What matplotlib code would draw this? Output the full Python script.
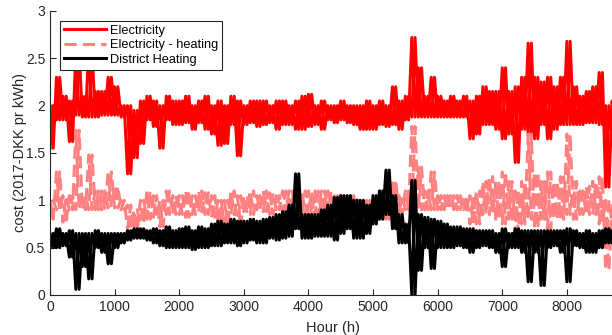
import numpy as np
import matplotlib
matplotlib.use("Agg")
import matplotlib.pyplot as plt

plt.rcParams['font.family'] = ['Liberation Sans', 'DejaVu Sans']

hours = list(range(0, 8800, 100))

el_hi = [2.0, 2.3, 2.1, 2.05, 2.6, 2.1, 2.6, 2.15, 2.15, 2.3,
         2.2, 2.0, 2.0, 1.95, 2.05, 2.1, 2.05, 2.0, 2.1, 2.05,
         2.05, 2.1, 2.0, 2.05, 2.1, 2.0, 2.05, 2.0, 2.1, 2.05,
         2.0, 2.05, 2.05, 2.05, 2.0, 2.05, 2.05, 2.0, 2.05, 2.1,
         2.12, 2.0, 2.05, 2.0, 2.0, 2.05, 2.0, 2.0, 2.0, 2.05,
         2.0, 2.05, 2.0, 2.2, 2.05, 2.1, 2.72, 2.4, 2.1, 2.3,
         2.1, 2.05, 2.1, 2.05, 2.1, 2.05, 2.1, 2.2, 2.15, 2.15,
         2.4, 2.15, 2.2, 2.3, 2.66, 2.3, 2.25, 2.3, 2.2, 2.3,
         2.68, 2.2, 2.1, 2.15, 2.2, 2.35, 2.0, 2.05]
el_lo = [1.55, 1.85, 1.85, 1.62, 1.9, 1.88, 1.88, 1.88, 1.9, 1.9,
         1.9, 1.88, 1.28, 1.45, 1.6, 1.85, 1.78, 1.55, 1.85, 1.8,
         1.8, 1.82, 1.75, 1.82, 1.75, 1.7, 1.58, 1.6, 1.8, 1.47,
         1.8, 1.82, 1.78, 1.8, 1.82, 1.75, 1.8, 1.8, 1.75, 1.75,
         1.78, 1.8, 1.75, 1.85, 1.82, 1.85, 1.82, 1.8, 1.75, 1.75,
         1.75, 1.8, 1.78, 1.8, 1.75, 1.85, 1.88, 1.88, 1.88, 1.88,
         1.88, 1.88, 1.88, 1.88, 1.88, 1.65, 1.7, 1.8, 1.8, 1.75,
         1.65, 1.7, 1.4, 1.75, 1.7, 1.65, 1.8, 1.65, 1.75, 1.8,
         1.8, 1.8, 1.8, 1.82, 1.82, 1.8, 1.14, 1.65]

eh_hi = [1.0, 1.3, 1.05, 1.05, 1.74, 1.05, 1.48, 1.1, 1.1, 1.3,
         1.15, 1.0, 0.95, 0.9, 1.0, 1.1, 1.05, 1.0, 1.1, 1.05,
         1.05, 1.1, 1.05, 1.1, 1.08, 1.05, 1.0, 1.0, 1.1, 1.05,
         1.05, 1.1, 1.05, 1.1, 1.08, 1.05, 1.1, 1.1, 1.1, 1.1,
         1.1, 1.1, 1.1, 1.1, 1.05, 1.05, 1.05, 1.05, 1.0, 1.0,
         1.0, 1.05, 1.0, 1.22, 1.05, 1.1, 1.78, 1.35, 1.1, 1.3,
         1.05, 1.05, 1.05, 1.05, 1.05, 1.05, 1.1, 1.2, 1.25, 1.2,
         1.3, 1.2, 1.1, 1.2, 1.7, 1.3, 1.2, 1.3, 1.2, 1.25,
         1.7, 1.2, 1.1, 1.15, 1.2, 1.25, 1.0, 0.95]
eh_lo = [0.8, 0.9, 0.77, 0.9, 0.9, 0.9, 0.9, 0.9, 0.9, 0.92,
         0.92, 0.9, 0.7, 0.68, 0.75, 0.8, 0.82, 0.72, 0.85, 0.85,
         0.85, 0.82, 0.85, 0.88, 0.85, 0.82, 0.75, 0.7, 0.85, 0.7,
         0.88, 0.85, 0.9, 0.88, 0.85, 0.9, 0.88, 0.85, 0.85, 0.85,
         0.85, 0.85, 0.85, 0.85, 0.9, 0.9, 0.9, 0.85, 0.82, 0.8,
         0.78, 0.85, 0.8, 0.8, 0.85, 0.9, 0.9, 0.9, 0.9, 0.9,
         0.9, 0.9, 0.9, 0.9, 0.9, 0.75, 0.75, 0.85, 0.85, 0.8,
         0.75, 0.8, 0.65, 0.75, 0.8, 0.7, 0.8, 0.7, 0.8, 0.8,
         0.85, 0.8, 0.85, 0.85, 0.85, 0.75, 0.26, 0.75]

dh_hi = [0.65, 0.7, 0.65, 0.68, 0.65, 0.65, 0.65, 0.68, 0.65, 0.65,
         0.65, 0.65, 0.68, 0.7, 0.7, 0.68, 0.7, 0.68, 0.72, 0.68,
         0.7, 0.72, 0.68, 0.72, 0.7, 0.75, 0.78, 0.75, 0.8, 0.78,
         0.78, 0.8, 0.78, 0.8, 0.82, 0.85, 0.88, 0.95, 1.28, 0.85,
         0.85, 0.85, 0.9, 0.95, 1.03, 1.05, 1.05, 1.0, 1.0, 0.95,
         1.05, 1.1, 1.32, 1.05, 0.85, 0.75, 1.21, 0.85, 0.82, 0.8,
         0.78, 0.75, 0.72, 0.72, 0.7, 0.7, 0.68, 0.68, 0.68, 0.65,
         0.7, 0.65, 0.7, 0.68, 0.68, 0.68, 0.68, 0.68, 0.68, 0.68,
         0.7, 0.68, 0.65, 0.68, 0.65, 0.68, 0.7, 0.68]
dh_lo = [0.5, 0.5, 0.52, 0.4, 0.06, 0.3, 0.17, 0.5, 0.45, 0.33,
         0.5, 0.55, 0.58, 0.6, 0.6, 0.58, 0.55, 0.52, 0.5, 0.5,
         0.5, 0.5, 0.48, 0.5, 0.5, 0.52, 0.52, 0.55, 0.55, 0.52,
         0.55, 0.58, 0.55, 0.55, 0.6, 0.58, 0.6, 0.62, 0.7, 0.6,
         0.6, 0.62, 0.62, 0.62, 0.58, 0.65, 0.7, 0.6, 0.6, 0.65,
         0.75, 0.8, 0.85, 0.7, 0.55, 0.55, 0.0, 0.26, 0.5, 0.28,
         0.5, 0.5, 0.5, 0.52, 0.5, 0.45, 0.5, 0.52, 0.5, 0.45,
         0.3, 0.5, 0.5, 0.45, 0.14, 0.45, 0.1, 0.5, 0.52, 0.45,
         0.14, 0.52, 0.5, 0.45, 0.45, 0.5, 0.55, 0.55]


def zigzag(first, second):
    # alternate two envelope reads: first at h, second half a step later
    x, y = [], []
    for h, a, b in zip(hours, first, second):
        x += [h, h + 50]
        y += [a, b]
    return x, y


def draw(hi, lo, label, **kw):
    # hi->lo and lo->hi crossing traces give the dense hourly band look
    x, y = zigzag(hi, lo)
    ax.plot(x, y, label=label, **kw)
    x, y = zigzag(lo, hi)
    ax.plot(x, y, **kw)


fig = plt.figure(figsize=(6.12, 3.35), dpi=100)
ax = fig.add_axes([50 / 612, 40 / 335, 566 / 612, 284 / 335])

draw(el_hi, el_lo, 'Electricity', color=(1, 0, 0), lw=2.2)
draw(eh_hi, eh_lo, 'Electricity - heating', color=(1, 0.5, 0.5), lw=2.2, ls=(0, (4, 2)))
draw(dh_hi, dh_lo, 'District Heating', color='k', lw=2.2)

ax.set_xlim(0, 8760)
ax.set_ylim(0, 3)
ax.set_xticks(range(0, 9000, 1000))
ax.set_yticks([0, 0.5, 1, 1.5, 2, 2.5, 3])
ax.set_yticklabels(['0', '0.5', '1', '1.5', '2', '2.5', '3'])
ax.tick_params(direction='in', length=4, labelsize=10, colors='#262626')
for s in ['top', 'right']:
    ax.spines[s].set_visible(False)
for s in ['left', 'bottom']:
    ax.spines[s].set_color('#262626')
ax.set_xlabel('Hour (h)', fontsize=10.5, color='#262626', labelpad=5)
ax.set_ylabel('cost (2017-DKK pr kWh)', fontsize=10.5, color='#262626', labelpad=-1)

leg = ax.legend(loc='upper left', bbox_to_anchor=(10 / 566, 1 - 10 / 284), fontsize=9.2,
                fancybox=False, framealpha=1, edgecolor='#262626', borderpad=0.3,
                labelspacing=0.2, handlelength=3.3, handletextpad=0.3, borderaxespad=0)
leg.get_frame().set_linewidth(0.8)

fig.savefig('out.png', dpi=100)
